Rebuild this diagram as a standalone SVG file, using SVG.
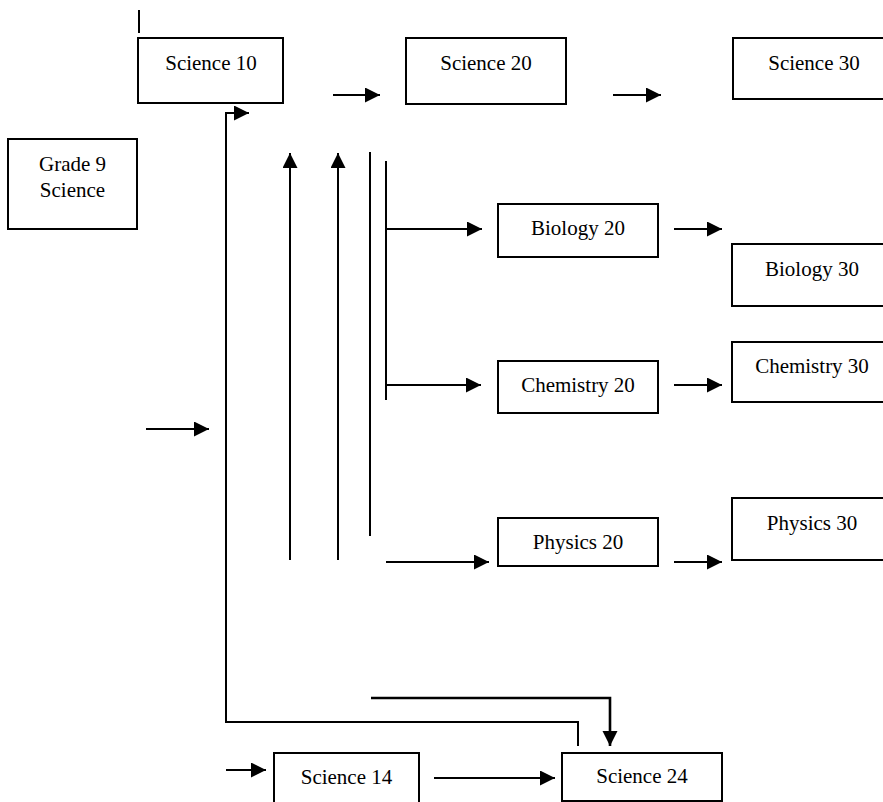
<svg xmlns="http://www.w3.org/2000/svg" width="883" height="802" viewBox="0 0 883 802">
<style>
.box{fill:#fff;stroke:#000;stroke-width:2}
.t{font-family:"Liberation Serif","Times New Roman",serif;font-size:21px;fill:#000;text-anchor:middle}
.c{fill:none;stroke:#000;stroke-width:2}
.a{marker-end:url(#ah)}
.thick{stroke-width:2.6}
</style>
<defs>
<marker id="ah" markerUnits="userSpaceOnUse" markerWidth="16" markerHeight="16" refX="15" refY="7.5" orient="auto">
<path d="M0,0 L15,7.5 L0,15 z" fill="#000"/>
</marker>
</defs>
<rect width="883" height="802" fill="#fff"/>
<g id="connectors">
<line class="c" x1="139" y1="10" x2="139" y2="33"/>
<line class="c a" x1="333" y1="95" x2="380" y2="95"/>
<line class="c a" x1="613" y1="95" x2="661" y2="95"/>
<path class="c a" d="M578,746 V722 H226 V113 H249"/>
<line class="c a" x1="290" y1="560" x2="290" y2="153"/>
<line class="c a" x1="338" y1="560" x2="338" y2="153"/>
<line class="c" x1="370" y1="152" x2="370" y2="536"/>
<line class="c" x1="386" y1="161" x2="386" y2="400"/>
<line class="c a" x1="386" y1="229" x2="482" y2="229"/>
<line class="c a" x1="386" y1="385" x2="481" y2="385"/>
<line class="c a" x1="386" y1="562" x2="489" y2="562"/>
<line class="c a" x1="674" y1="229" x2="722" y2="229"/>
<line class="c a" x1="674" y1="385" x2="722" y2="385"/>
<line class="c a" x1="674" y1="562" x2="722" y2="562"/>
<line class="c a" x1="146" y1="429" x2="209" y2="429"/>
<path class="c a thick" d="M371,698 H610 V746"/>
<line class="c a" x1="226" y1="770" x2="266" y2="770"/>
<line class="c a" x1="434" y1="778" x2="555" y2="778"/>
</g>
<g id="science10"><rect class="box" x="138" y="38" width="145" height="65"/><text class="t" x="211" y="70">Science 10</text></g>
<g id="science20"><rect class="box" x="406" y="38" width="160" height="66"/><text class="t" x="486" y="70">Science 20</text></g>
<g id="science30"><rect class="box" x="733" y="38" width="162" height="61"/><text class="t" x="814" y="70">Science 30</text></g>
<g id="grade9"><rect class="box" x="8" y="139" width="129" height="90"/><text class="t" x="72.5" y="171">Grade 9</text><text class="t" x="72.5" y="197">Science</text></g>
<g id="biology20"><rect class="box" x="498" y="204" width="160" height="53"/><text class="t" x="578" y="235">Biology 20</text></g>
<g id="chemistry20"><rect class="box" x="498" y="361" width="160" height="52"/><text class="t" x="578" y="392">Chemistry 20</text></g>
<g id="physics20"><rect class="box" x="498" y="518" width="160" height="48"/><text class="t" x="578" y="549">Physics 20</text></g>
<g id="biology30"><rect class="box" x="732" y="244" width="162" height="62"/><text class="t" x="812" y="276">Biology 30</text></g>
<g id="chemistry30"><rect class="box" x="732" y="342" width="162" height="60"/><text class="t" x="812" y="373">Chemistry 30</text></g>
<g id="physics30"><rect class="box" x="732" y="498" width="162" height="62"/><text class="t" x="812" y="530">Physics 30</text></g>
<g id="science14"><rect class="box" x="274" y="753" width="145" height="60"/><text class="t" x="346.5" y="784">Science 14</text></g>
<g id="science24"><rect class="box" x="562" y="753" width="160" height="48"/><text class="t" x="642" y="783">Science 24</text></g>
</svg>
